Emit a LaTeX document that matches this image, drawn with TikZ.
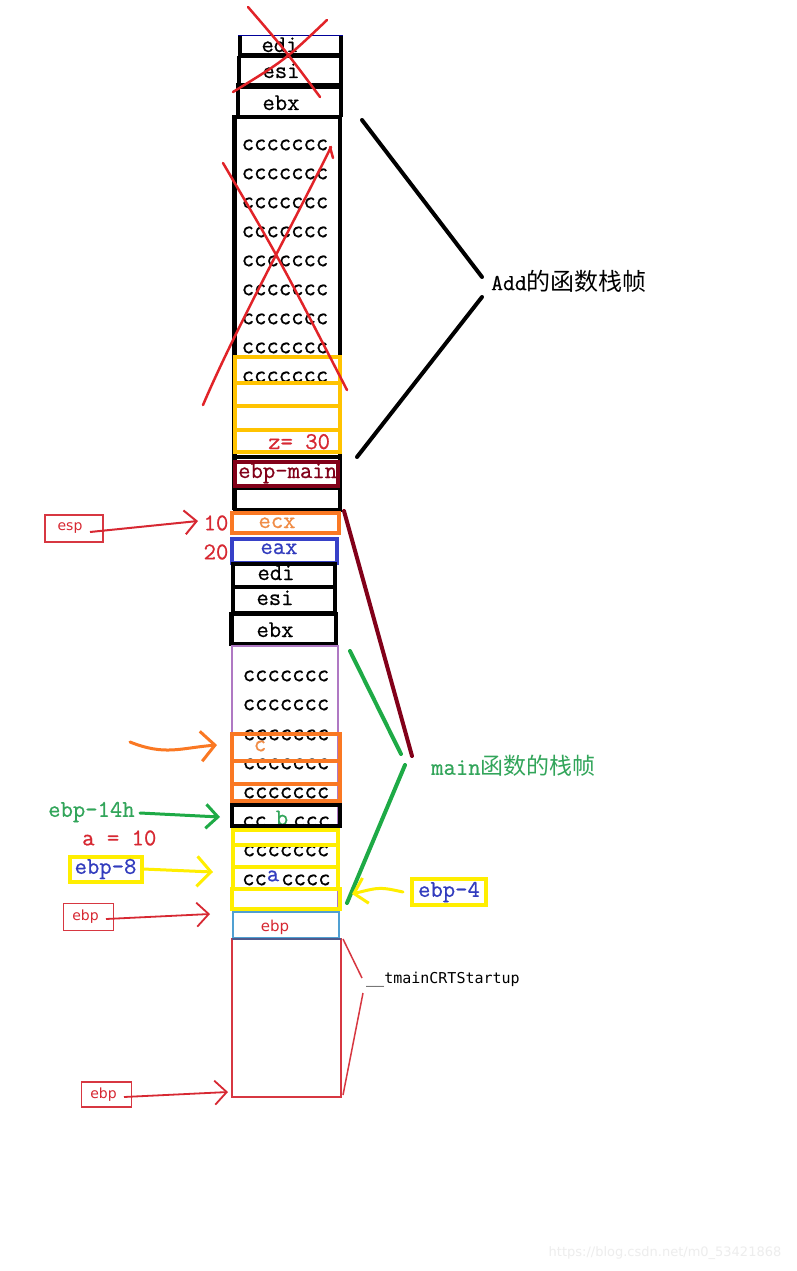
\documentclass[tikz,border=0pt]{standalone}
\usepackage{fontspec}
\setmainfont{Liberation Serif}
\newfontfamily\mono{Latin Modern Mono}[FakeBold=0.7]
\newfontfamily\cjk{Noto Sans CJK SC}
\newfontfamily\sans{DejaVu Sans}
\newfontfamily\smono{DejaVu Sans Mono}
\usetikzlibrary{arrows.meta}
\definecolor{xred}{RGB}{225,35,40}
\definecolor{tred}{RGB}{215,40,50}
\definecolor{gold}{RGB}{255,195,0}
\definecolor{yel}{RGB}{255,238,0}
\definecolor{org}{RGB}{250,120,35}
\definecolor{torg}{RGB}{240,140,70}
\definecolor{bbox}{RGB}{55,65,200}
\definecolor{tblue}{RGB}{50,60,190}
\definecolor{dred}{RGB}{130,0,25}
\definecolor{grn}{RGB}{30,170,70}
\definecolor{tgrn}{RGB}{50,165,90}
\definecolor{purp}{RGB}{175,120,195}
\definecolor{cyanb}{RGB}{80,160,210}
\definecolor{boxred}{RGB}{215,55,65}
\definecolor{slate}{RGB}{80,90,140}
\begin{document}
\begin{tikzpicture}[x=1pt,y=-1pt,
  cell/.style={font=\mono\fontsize{24}{24}\selectfont, inner sep=0pt},
  bigcjk/.style={inner sep=0pt},
  sanslbl/.style={font=\sans\fontsize{15}{15}\selectfont, inner sep=0pt},
  blk/.style={draw=black, line width=4.5pt},
  goldbox/.style={draw=gold, line width=4.5pt},
  yelbox/.style={draw=yel, line width=4pt},
  orgbox/.style={draw=org, line width=4pt},
  hand/.style={line width=2.5pt, line cap=round},
  brk/.style={line width=4pt, line cap=round},
  thinred/.style={draw=boxred, line width=1.5pt},
  barb/.style={-{Straight Barb[length=12pt,width=24pt]}}
]
\useasboundingbox[fill=white] (0,0) rectangle (797,1271);

% ---------- texts inside the Add frame ----------
\node[cell, anchor=base] (tedi1) at (280,52) {edi};
\node[cell, anchor=base] (tesi1) at (281,78) {esi};
\node[cell, anchor=base] (tebx1) at (281,110) {ebx};
\foreach \y [count=\i] in {145,174,203,232,261,290,319,348,377}
  \node[cell] (up\i) at (285,\y) {ccccccc};
\node[cell, anchor=base west, text=tred] (tz) at (268,449) {z= 30};
\node[cell, anchor=base west, text=dred] (tebpm) at (238,478) {ebp-main};

% ---------- texts inside the main frame ----------
\node[cell, anchor=base, text=torg] (tecx) at (277,528) {ecx};
\node[cell, anchor=base, text=tblue] (teax) at (279,554) {eax};
\node[cell, anchor=base] (tedi2) at (276,580) {edi};
\node[cell, anchor=base] (tesi2) at (275,605) {esi};
\node[cell, anchor=base] (tebx2) at (275,637) {ebx};
\foreach \y [count=\i] in {676,705,735,764,793,851}
  \node[cell] (lo\i) at (286,\y) {ccccccc};
\node[cell, anchor=west] (lob1) at (242,822) {cc};
\node[cell, anchor=west] (lob2) at (293,822) {ccc};
\node[cell, text=tgrn] (tb) at (282,818) {b};
\node[cell, anchor=west] (loa1) at (242,880) {cc};
\node[cell, anchor=west] (loa2) at (281,880) {cccc};
\node[cell, text=tblue] (ta) at (273,876) {a};
\node[cell, text=torg] (tc) at (260,746) {c};
\node[sanslbl, text=tred] (tebp) at (275,927) {ebp};

% ---------- Add frame boxes ----------
\draw[draw=blue!60!black, line width=1pt] (238,36) -- (343,36);
\draw[blk] (240,36) -- (240,57);
\draw[blk] (341,36) -- (341,57);
\draw[blk] (238,55.5) -- (343,55.5);
\draw[blk] (239,56) -- (239,86);
\draw[blk] (341,56) -- (341,86);
\draw[draw=black, line width=6pt] (236,86) -- (343,86);
\draw[blk] (238,86) -- (238,117);
\draw[blk] (341,86) -- (341,117);
\draw[blk] (232,117) -- (342,117);
\draw[blk] (234.5,117) -- (234.5,510);
\draw[blk] (340,117) -- (340,510);
\draw[blk] (233,457) -- (342,457);
\draw[blk] (233,488) -- (342,488);
\draw[blk] (233,510) -- (342,510);
\draw[goldbox] (235,357) rectangle (340,383);
\draw[goldbox] (235,383) rectangle (340,406);
\draw[goldbox] (235,406) rectangle (340,430);
\draw[goldbox] (235,430) rectangle (340,452);
\draw[draw=dred, line width=4pt] (235,462) rectangle (338,486);

% ---------- main frame boxes ----------
\draw[orgbox] (232,513) rectangle (339,533);
\draw[draw=bbox, line width=4.5pt] (232,539) rectangle (337,563);
\draw[blk] (233,564) rectangle (335,587);
\draw[blk] (233,587) rectangle (335,613);
\draw[blk] (231.5,614) rectangle (336,644);
\draw[draw=purp, line width=1.2pt] (232,646) rectangle (338,910);
\draw[orgbox] (232,734) rectangle (340,761);
\draw[orgbox] (232,761) rectangle (340,784);
\draw[orgbox] (232,784) rectangle (340,801);
\draw[draw=black, line width=4pt] (232,805) rectangle (340,826);
\draw[yelbox] (233,830) rectangle (338,845);
\draw[yelbox] (233,845) rectangle (338,867);
\draw[yelbox] (233,867) rectangle (338,889);
\draw[draw=yel, line width=4.5pt] (232,889) rectangle (340,909);
\draw[draw=cyanb, line width=1.2pt] (233,912) rectangle (339,938);
\draw[thinred] (232,939) rectangle (341,1097);
\draw[draw=slate, line width=1.5pt] (232,939) -- (341,939);

% ---------- red crosses ----------
\draw[xred, hand] (248,7) .. controls (285,50) .. (320,97);
\draw[xred, hand] (327,20) .. controls (285,60) .. (233,92);
\draw[xred, hand] (223,163) .. controls (280,260) .. (347,390);
\draw[xred, hand] (331,147) .. controls (290,230) and (235,330) .. (203,405);
\draw[xred, hand] (333,158) -- (330,147);

% ---------- brackets and labels ----------
\coordinate (a1) at (362,120);
\coordinate (a2) at (482,277);
\coordinate (a3) at (482,297);
\coordinate (a4) at (357,457);
\draw[black, brk] (a1) -- (a2);
\draw[black, brk] (a3) -- (a4);
\node[bigcjk, anchor=west] (addlbl) at (491,281)
  {{\mono\fontsize{23}{23}\selectfont Add}{\cjk\fontsize{24}{24}\selectfont 的函数栈帧}};

\coordinate (d1) at (344,511);
\coordinate (d2) at (412,756);
\draw[dred, brk] (d1) -- (d2);
\coordinate (g1) at (350,651);
\coordinate (g2) at (401,754);
\coordinate (g3) at (405,765);
\coordinate (g4) at (347,903);
\draw[grn, brk] (g1) -- (g2);
\draw[grn, brk] (g3) -- (g4);
\node[bigcjk, anchor=west, text=tgrn] (mainlbl) at (431,766)
  {{\mono\fontsize{24}{24}\selectfont main}{\cjk\fontsize{23}{23}\selectfont 函数的栈帧}};

\coordinate (t1) at (343,939);
\coordinate (t2) at (362,978);
\coordinate (t3) at (363,993);
\coordinate (t4) at (343,1095);
\draw[thinred] (t1) -- (t2);
\draw[thinred] (t3) -- (t4);
\node[font=\smono\fontsize{15}{15}\selectfont, anchor=west, inner sep=0pt] (tmain) at (366,980) {\_\_tmainCRTStartup};

% ---------- left pointers ----------
\node[draw=boxred, line width=1.5pt, minimum width=58pt, minimum height=27pt, inner sep=0pt,
      font=\sans\fontsize{14}{14}\selectfont, text=tred] (esp) at (74,528.5) {\hspace*{-8pt}esp};
\coordinate (espA) at (90,532);
\coordinate (espB) at (198,521);
\draw[tred, line width=2pt, barb] (espA) -- (espB);
\node[cell, text=tred] (n10) at (216,523) {10};
\node[cell, text=tred] (n20) at (216,552) {20};

\coordinate (oA) at (130,742);
\coordinate (oB) at (217,745);
\draw[org, line width=3pt, line cap=round, -{Straight Barb[length=14pt,width=30pt]}] (oA) .. controls (165,756) and (180,748) .. (oB);

\node[cell, anchor=west, text=tgrn] (e14) at (48,812) {ebp-14h};
\coordinate (gA) at (140,813);
\coordinate (gB) at (220,817);
\draw[grn, line width=3pt, line cap=round, barb] (gA) -- (gB);
\node[cell, anchor=west, text=tred] (a10) at (82,838) {a = 10};

\node[draw=yel, line width=4pt, minimum width=72pt, minimum height=25pt, inner sep=0pt,
      font=\mono\fontsize{24}{24}\selectfont, text=tblue] (e8) at (105.5,869) {ebp-8};
\coordinate (yA) at (143,869);
\coordinate (yB) at (213,872);
\draw[yel, line width=3pt, line cap=round, -{Straight Barb[length=14pt,width=30pt]}] (yA) -- (yB);

\node[draw=boxred, line width=1.5pt, minimum width=50pt, minimum height=27pt, inner sep=0pt,
      font=\sans\fontsize{14}{14}\selectfont, text=tred] (ebp1) at (88.5,917) {\hspace*{-6pt}ebp};
\coordinate (rA) at (106,919);
\coordinate (rB) at (210,914);
\draw[tred, line width=1.8pt, barb] (rA) -- (rB);

\node[draw=boxred, line width=1.5pt, minimum width=50pt, minimum height=25pt, inner sep=0pt,
      font=\sans\fontsize{14}{14}\selectfont, text=tred] (ebp2) at (106.5,1094.5) {\hspace*{-6pt}ebp};
\coordinate (rC) at (124,1097);
\coordinate (rD) at (228,1092);
\draw[tred, line width=1.8pt, barb] (rC) -- (rD);

\node[draw=yel, line width=4pt, minimum width=74pt, minimum height=26pt, inner sep=0pt,
      font=\mono\fontsize{24}{24}\selectfont, text=tblue] (e4) at (449,892) {ebp-4};
\coordinate (y4A) at (403,892);
\coordinate (y4B) at (352,894);
\draw[yel, line width=3pt, line cap=round, -{Straight Barb[length=12pt,width=26pt]}] (y4A) .. controls (380,887) .. (y4B);

\node[font=\sans\fontsize{13}{13}\selectfont, text=black!7, inner sep=0pt] (wm) at (665,1253) {https://blog.csdn.net/m0\_53421868};
\end{tikzpicture}
\end{document}
